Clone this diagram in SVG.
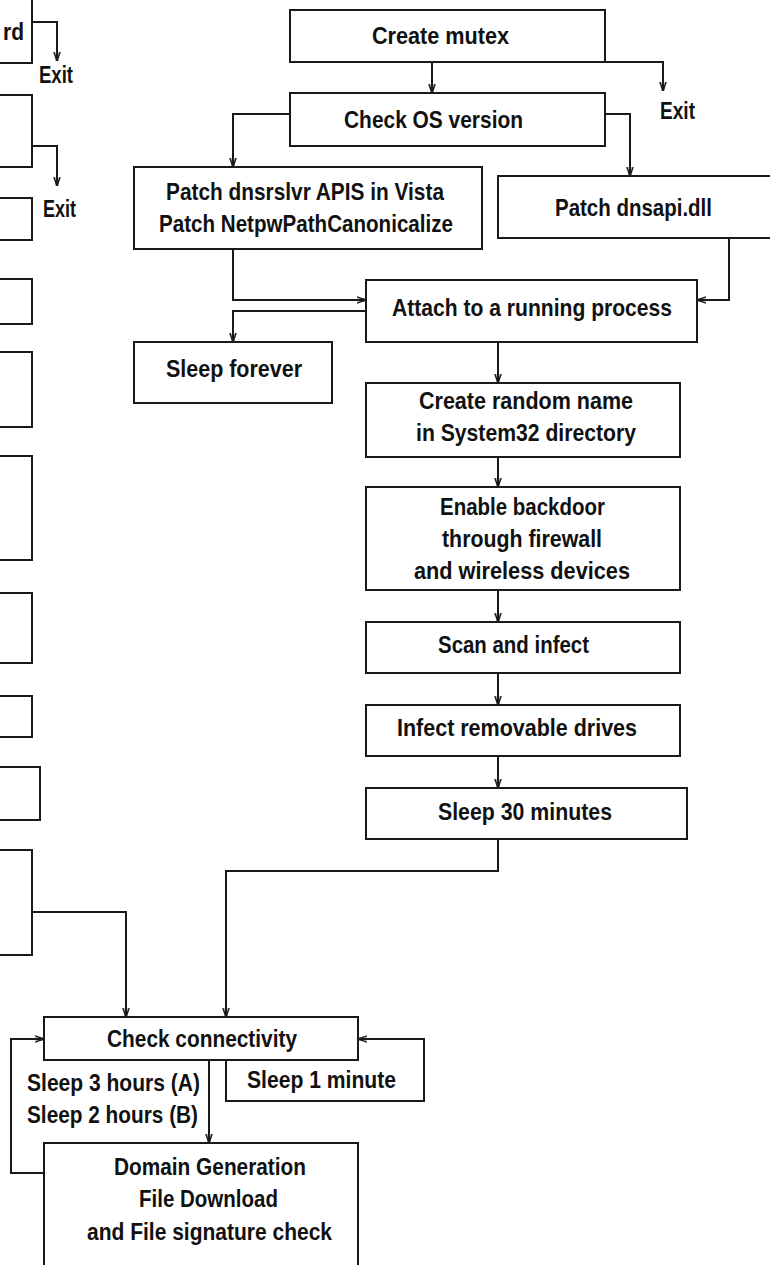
<svg xmlns="http://www.w3.org/2000/svg" width="770" height="1265" viewBox="0 0 770 1265">
<style>
.box{fill:#fff;stroke:#1a1a1a;stroke-width:2}
.t{font-family:"Liberation Sans",Arial,sans-serif;font-weight:bold;font-size:24px;fill:#111}
.c{fill:none;stroke:#1a1a1a;stroke-width:2}
.a{marker-end:url(#arr)}
</style>
<defs>
<marker id="arr" viewBox="0 0 10 10" refX="10" refY="5" markerWidth="9" markerHeight="9" markerUnits="userSpaceOnUse" orient="auto">
<path d="M0,1.5 L10,5 L0,8.5" fill="none" stroke="#1a1a1a" stroke-width="1.6"/>
<path d="M0,5 L10,5" stroke="#1a1a1a" stroke-width="2.8"/>
</marker>
</defs>
<rect width="770" height="1265" fill="#fff"/>

<g id="connectors">
<path class="c a" d="M432,62 V93"/>
<path class="c a" d="M605,62 H663 V91"/>
<path class="c a" d="M290,114 H233 V167"/>
<path class="c a" d="M605,114 H630 V176"/>
<path class="c a" d="M233,249 V300 H366"/>
<path class="c a" d="M729,238 V300 H697"/>
<path class="c a" d="M366,311 H233 V342"/>
<path class="c a" d="M498,342 V383"/>
<path class="c a" d="M498,457 V487"/>
<path class="c a" d="M498,590 V622"/>
<path class="c a" d="M498,673 V705"/>
<path class="c a" d="M498,756 V788"/>
<path class="c a" d="M498,839 V871 H226 V1017"/>
<path class="c a" d="M32,912 H126 V1017"/>
<path class="c a" d="M209,1060 V1143"/>
<path class="c a" d="M44,1173 H11 V1039 H44"/>
<path class="c a" d="M32,22 H57 V61"/>
<path class="c a" d="M32,146 H57 V186"/>
</g>

<g id="left-box-1"><rect class="box" x="-10" y="-10" width="42" height="73"/><text class="t" x="3" y="40" textLength="21" lengthAdjust="spacingAndGlyphs">rd</text></g>
<g id="exit-1"><text class="t" x="39" y="83" textLength="34" lengthAdjust="spacingAndGlyphs">Exit</text></g>
<g id="left-box-2"><rect class="box" x="-10" y="95" width="42" height="72"/></g>
<g id="exit-2"><text class="t" x="43" y="217" textLength="33" lengthAdjust="spacingAndGlyphs">Exit</text></g>
<g id="left-box-3"><rect class="box" x="-10" y="198" width="42" height="42"/></g>
<g id="left-box-4"><rect class="box" x="-10" y="279" width="42" height="45"/></g>
<g id="left-box-5"><rect class="box" x="-10" y="352" width="42" height="75"/></g>
<g id="left-box-6"><rect class="box" x="-10" y="456" width="42" height="104"/></g>
<g id="left-box-7"><rect class="box" x="-10" y="593" width="42" height="70"/></g>
<g id="left-box-8"><rect class="box" x="-10" y="696" width="42" height="41"/></g>
<g id="left-box-9"><rect class="box" x="-10" y="767" width="50" height="53"/></g>
<g id="left-box-10"><rect class="box" x="-10" y="850" width="42" height="105"/></g>

<g id="create-mutex"><rect class="box" x="290" y="10" width="315" height="52"/><text class="t" x="372" y="44" textLength="137" lengthAdjust="spacingAndGlyphs">Create mutex</text></g>
<g id="exit-3"><text class="t" x="660" y="119" textLength="35" lengthAdjust="spacingAndGlyphs">Exit</text></g>
<g id="check-os"><rect class="box" x="290" y="93" width="315" height="53"/><text class="t" x="344" y="128" textLength="179" lengthAdjust="spacingAndGlyphs">Check OS version</text></g>
<g id="patch-dnsrslvr"><rect class="box" x="134" y="167" width="348" height="82"/>
<text class="t" x="166" y="200" textLength="278" lengthAdjust="spacingAndGlyphs">Patch dnsrslvr APIS in Vista</text>
<text class="t" x="159" y="232" textLength="294" lengthAdjust="spacingAndGlyphs">Patch NetpwPathCanonicalize</text></g>
<g id="patch-dnsapi"><rect class="box" x="498" y="176" width="300" height="62"/><text class="t" x="555" y="216" textLength="157" lengthAdjust="spacingAndGlyphs">Patch dnsapi.dll</text></g>
<g id="attach"><rect class="box" x="366" y="280" width="331" height="62"/><text class="t" x="392" y="316" textLength="280" lengthAdjust="spacingAndGlyphs">Attach to a running process</text></g>
<g id="sleep-forever"><rect class="box" x="134" y="342" width="198" height="61"/><text class="t" x="166" y="377" textLength="136" lengthAdjust="spacingAndGlyphs">Sleep forever</text></g>
<g id="create-random"><rect class="box" x="366" y="383" width="314" height="74"/>
<text class="t" x="419" y="409" textLength="214" lengthAdjust="spacingAndGlyphs">Create random name</text>
<text class="t" x="416" y="441" textLength="220" lengthAdjust="spacingAndGlyphs">in System32 directory</text></g>
<g id="enable-backdoor"><rect class="box" x="366" y="487" width="314" height="103"/>
<text class="t" x="440" y="515" textLength="165" lengthAdjust="spacingAndGlyphs">Enable backdoor</text>
<text class="t" x="442" y="547" textLength="160" lengthAdjust="spacingAndGlyphs">through firewall</text>
<text class="t" x="414" y="579" textLength="216" lengthAdjust="spacingAndGlyphs">and wireless devices</text></g>
<g id="scan-infect"><rect class="box" x="366" y="622" width="314" height="51"/><text class="t" x="438" y="653" textLength="151" lengthAdjust="spacingAndGlyphs">Scan and infect</text></g>
<g id="infect-removable"><rect class="box" x="366" y="705" width="314" height="51"/><text class="t" x="397" y="736" textLength="240" lengthAdjust="spacingAndGlyphs">Infect removable drives</text></g>
<g id="sleep-30"><rect class="box" x="366" y="788" width="321" height="51"/><text class="t" x="438" y="820" textLength="174" lengthAdjust="spacingAndGlyphs">Sleep 30 minutes</text></g>
<g id="check-connectivity"><rect class="box" x="44" y="1017" width="314" height="43"/><text class="t" x="107" y="1047" textLength="190" lengthAdjust="spacingAndGlyphs">Check connectivity</text></g>
<g id="sleep-1-minute"><path class="c a" d="M226,1060 V1101 H424 V1039 H358"/><text class="t" x="247" y="1088" textLength="149" lengthAdjust="spacingAndGlyphs">Sleep 1 minute</text></g>
<g id="sleep-hours"><text class="t" x="27" y="1091" textLength="173" lengthAdjust="spacingAndGlyphs">Sleep 3 hours (A)</text>
<text class="t" x="27" y="1123" textLength="171" lengthAdjust="spacingAndGlyphs">Sleep 2 hours (B)</text></g>
<g id="domain-generation"><rect class="box" x="44" y="1143" width="314" height="140"/>
<text class="t" x="114" y="1175" textLength="192" lengthAdjust="spacingAndGlyphs">Domain Generation</text>
<text class="t" x="139" y="1207" textLength="139" lengthAdjust="spacingAndGlyphs">File Download</text>
<text class="t" x="87" y="1240" textLength="245" lengthAdjust="spacingAndGlyphs">and File signature check</text></g>
</svg>
